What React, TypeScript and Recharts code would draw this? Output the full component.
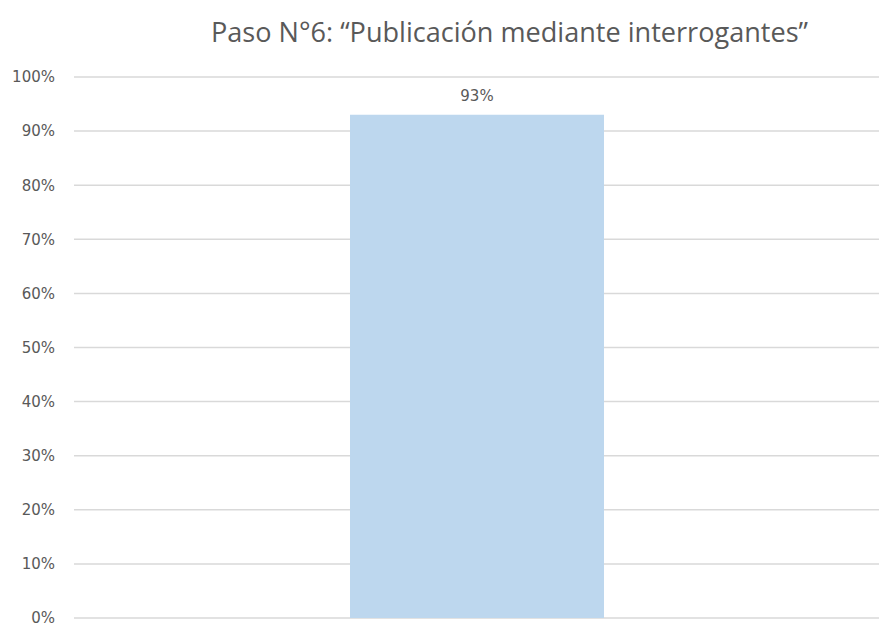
import { BarChart, Bar, XAxis, YAxis, CartesianGrid, LabelList } from 'recharts'

const title = 'Paso N°6: “Publicación mediante interrogantes”'
const categories = ['Paso 6']
const values = [93]
const yTicks = [0, 10, 20, 30, 40, 50, 60, 70, 80, 90, 100]

const data = categories.map((name, i) => ({ name, value: values[i] }))

export default function App() {
  return (
    <div style={{ position: 'absolute', left: 0, top: 0, width: 879, height: 626, background: '#fff' }}>
      <svg width={879} height={60} style={{ position: 'absolute', left: 0, top: 0 }}>
        <text
          x={509.5}
          y={42}
          textAnchor="middle"
          textLength={597}
          lengthAdjust="spacingAndGlyphs"
          fontFamily="Open Sans"
          fontSize={27}
          fill="#595959"
        >
          {title}
        </text>
      </svg>
      <BarChart width={879} height={626} data={data} margin={{ top: 77, right: 0, bottom: 8, left: 0 }}>
        <CartesianGrid vertical={false} stroke="#d9d9d9" strokeWidth={1.5} />
        <XAxis dataKey="name" hide />
        <YAxis
          width={74}
          domain={[0, 100]}
          ticks={yTicks}
          interval={0}
          tickFormatter={(v: number) => `${v}%`}
          axisLine={false}
          tickLine={false}
          tickMargin={13}
          tick={{ fill: '#595959', fontSize: 15, fontFamily: 'DejaVu Sans' }}
        />
        <Bar dataKey="value" fill="#bdd7ee" barSize={254} isAnimationActive={false}>
          <LabelList
            dataKey="value"
            position="top"
            offset={14}
            formatter={(v: any) => `${v}%`}
            style={{ fill: '#595959', fontSize: 15, fontFamily: 'DejaVu Sans' }}
          />
        </Bar>
      </BarChart>
    </div>
  )
}
